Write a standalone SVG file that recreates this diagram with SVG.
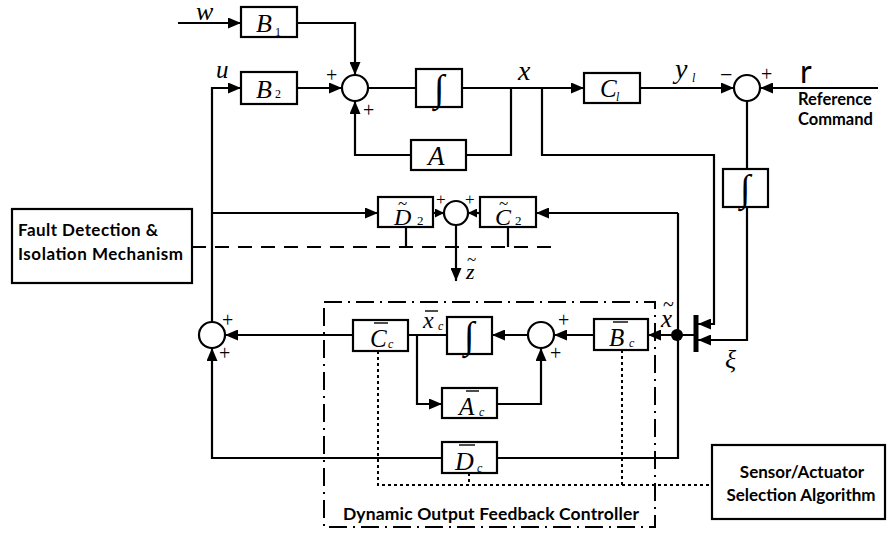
<svg xmlns="http://www.w3.org/2000/svg" width="888" height="536" viewBox="0 0 888 536">
<style>
.bx{fill:#fff;stroke:#000;stroke-width:2.2}
.ln{fill:none;stroke:#000;stroke-width:2.2}
.ar{fill:none;stroke:#000;stroke-width:2.2;marker-end:url(#ah)}
.sm{fill:none;stroke:#000;stroke-width:2.2;marker-end:url(#ahs)}
.dash{fill:none;stroke:#000;stroke-width:2.2;stroke-dasharray:14 9}
.dot{fill:none;stroke:#000;stroke-width:2;stroke-dasharray:3 3}
.dd{fill:none;stroke:#000;stroke-width:2;stroke-dasharray:18 6 2 6}
.m{font-family:"Liberation Serif",serif;font-style:italic;fill:#000}
.n{font-family:"Liberation Serif",serif;fill:#000}
.s{font-family:Lato,"Liberation Sans",sans-serif;font-weight:bold;fill:#000}
.bar{stroke:#000;stroke-width:1.4}
</style>
<defs>
<marker id="ah" markerUnits="userSpaceOnUse" markerWidth="13" markerHeight="11" refX="13" refY="5.5" orient="auto"><path d="M0,0 L13,5.5 L0,11 z" fill="#000"/></marker>
<marker id="ahs" markerUnits="userSpaceOnUse" markerWidth="9" markerHeight="9" refX="9" refY="4.5" orient="auto"><path d="M0,0 L9,4.5 L0,9 z" fill="#000"/></marker>
</defs>

<g id="connectors">
<path class="ar" d="M178,23 H241"/>
<path class="ar" d="M297,23 H355 V75"/>
<path class="ar" d="M297,88 H342"/>
<path class="ar" d="M212,322 V88 H241"/>
<path class="ln" d="M368,88 H416"/>
<path class="ar" d="M462,88 H584"/>
<path class="ln" d="M511,88 V155 H466"/>
<path class="ar" d="M411,155 H355 V101"/>
<path class="ar" d="M542,88 V155 H714 V324 H698"/>
<path class="ar" d="M640,88 H734"/>
<path class="ar" d="M878,88 H760"/>
<path class="ln" d="M747,101 V169"/>
<path class="ar" d="M747,207 V340 H698"/>
<path class="ar" d="M696,335 H648"/>
<path class="ln" d="M678,213 V458 H497"/>
<path class="ar" d="M442,458 H212 V348"/>
<path class="ar" d="M678,213 H536"/>
<path class="ar" d="M212,213 H378"/>
<path class="sm" d="M433,213 H444"/>
<path class="sm" d="M480,213 H468"/>
<path class="ar" d="M456,225 V281"/>
<path class="ar" d="M353,335 H225"/>
<path class="ln" d="M408,335 H447"/>
<path class="ar" d="M417,335 V404 H442"/>
<path class="ar" d="M497,404 H541 V348"/>
<path class="ar" d="M528,335 H492"/>
<path class="ar" d="M594,335 H554"/>
<path class="dash" d="M192,247 H553"/>
<path class="ln" d="M406,227 V247 M508,227 V247"/>
<path class="dot" d="M378,351 V485 H712 M622,350 V485 M469,473 V485"/>
<line x1="696" y1="315" x2="696" y2="352" stroke="#000" stroke-width="5"/>
<circle cx="677" cy="335" r="6" fill="#000"/>
</g>

<g id="controller-frame">
<rect class="dd" x="324" y="302" width="331" height="225"/>
<text class="s" x="343" y="520" font-size="17.5" textLength="296">Dynamic Output Feedback Controller</text>
</g>

<g id="labels">
<text class="m" x="196" y="20" font-size="26">w</text>
<text class="m" x="216" y="78" font-size="25">u</text>
<text class="m" x="518" y="80" font-size="28">x</text>
<text class="m" x="675" y="78" font-size="28">y</text>
<text class="m" x="692" y="82" font-size="12">l</text>
<text class="s" x="800" y="83" font-size="32" style="font-weight:normal">r</text>
<text class="s" x="798" y="105" font-size="16.5">Reference</text>
<text class="s" x="798" y="125" font-size="16.5">Command</text>
<text class="m" x="661" y="327" font-size="25">x</text>
<text class="n" x="663" y="311" font-size="20">~</text>
<text class="m" x="725" y="368" font-size="26">ξ</text>
<text class="m" x="466" y="279" font-size="22">z</text>
<text class="n" x="467" y="265" font-size="17">~</text>
<text class="m" x="423" y="328" font-size="24">x</text>
<line class="bar" x1="425" y1="311" x2="438" y2="311"/>
<text class="m" x="438" y="330" font-size="12">c</text>
</g>

<g id="signs">
<text class="n" x="326" y="82" font-size="20">+</text>
<text class="n" x="363" y="117" font-size="20">+</text>
<text class="n" x="720" y="82" font-size="22">−</text>
<text class="n" x="761" y="81" font-size="20">+</text>
<text class="n" x="436" y="205" font-size="17">+</text>
<text class="n" x="465" y="205" font-size="17">+</text>
<text class="n" x="222" y="327" font-size="20">+</text>
<text class="n" x="219" y="360" font-size="20">+</text>
<text class="n" x="558" y="327" font-size="20">+</text>
<text class="n" x="550" y="360" font-size="20">+</text>
</g>

<g id="B1"><rect class="bx" x="241" y="7" width="56" height="30"/><text class="m" x="256" y="32" font-size="26">B</text><text class="n" x="275" y="36" font-size="12">1</text></g>
<g id="B2"><rect class="bx" x="241" y="72" width="56" height="32"/><text class="m" x="256" y="98" font-size="26">B</text><text class="n" x="275" y="98" font-size="12">2</text></g>
<g id="sum1"><circle class="ln" cx="355" cy="88" r="13"/></g>
<g id="int1"><rect class="bx" x="416" y="69" width="46" height="38"/><text class="n" x="439" y="101" font-size="38" text-anchor="middle">∫</text></g>
<g id="A"><rect class="bx" x="411" y="140" width="55" height="30"/><text class="m" x="428" y="165" font-size="27">A</text></g>
<g id="C1"><rect class="bx" x="584" y="73" width="56" height="30"/><text class="m" x="600" y="97" font-size="25">C</text><text class="m" x="616" y="101" font-size="12">l</text></g>
<g id="sum2"><circle class="ln" cx="747" cy="88" r="13"/></g>
<g id="int2"><rect class="bx" x="723" y="169" width="45" height="38"/><text class="n" x="745" y="201" font-size="38" text-anchor="middle">∫</text></g>

<g id="FDI"><rect class="bx" x="12" y="209" width="180" height="74"/>
<text class="s" x="18" y="236" font-size="17" textLength="140">Fault Detection &amp;</text>
<text class="s" x="18" y="260" font-size="17" textLength="165">Isolation Mechanism</text></g>

<g id="D2t"><rect class="bx" x="378" y="197" width="55" height="30"/><text class="m" x="394" y="225" font-size="24">D</text><text class="n" x="398" y="209" font-size="17">~</text><text class="n" x="417" y="225" font-size="13">2</text></g>
<g id="sum4"><circle class="ln" cx="456" cy="213" r="12"/></g>
<g id="C2t"><rect class="bx" x="480" y="197" width="56" height="30"/><text class="m" x="495" y="225" font-size="24">C</text><text class="n" x="499" y="209" font-size="17">~</text><text class="n" x="515" y="225" font-size="13">2</text></g>

<g id="sum3"><circle class="ln" cx="212" cy="335" r="13"/></g>
<g id="Cc"><rect class="bx" x="353" y="320" width="55" height="31"/><text class="m" x="370" y="347" font-size="25">C</text><line class="bar" x1="374" y1="323" x2="388" y2="323"/><text class="m" x="388" y="348" font-size="12">c</text></g>
<g id="int3"><rect class="bx" x="447" y="317" width="45" height="37"/><text class="n" x="469" y="348" font-size="38" text-anchor="middle">∫</text></g>
<g id="sum5"><circle class="ln" cx="541" cy="335" r="13"/></g>
<g id="Bc"><rect class="bx" x="594" y="319" width="54" height="31"/><text class="m" x="609" y="346" font-size="25">B</text><line class="bar" x1="613" y1="322" x2="628" y2="322"/><text class="m" x="629" y="347" font-size="12">c</text></g>
<g id="Ac"><rect class="bx" x="442" y="388" width="55" height="30"/><text class="m" x="459" y="415" font-size="25">A</text><line class="bar" x1="466" y1="391" x2="479" y2="391"/><text class="m" x="479" y="416" font-size="12">c</text></g>
<g id="Dc"><rect class="bx" x="442" y="442" width="55" height="31"/><text class="m" x="455" y="470" font-size="26">D</text><line class="bar" x1="459" y1="445" x2="475" y2="445"/><text class="m" x="477" y="472" font-size="12">c</text></g>

<g id="SSA"><rect class="bx" x="712" y="445" width="173" height="74"/>
<text class="s" x="802" y="478" font-size="17" text-anchor="middle">Sensor/Actuator</text>
<text class="s" x="801" y="501" font-size="17" text-anchor="middle">Selection Algorithm</text></g>
</svg>
